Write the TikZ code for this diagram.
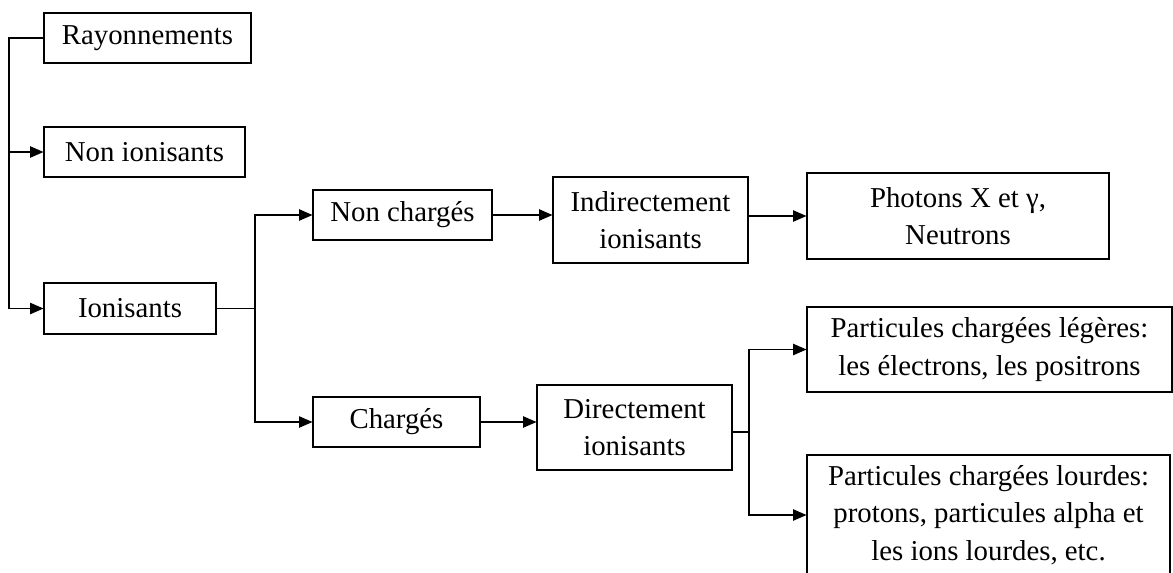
\documentclass[tikz,border=0pt]{standalone}
\usepackage{fontspec}
\setmainfont{Liberation Serif}
\usetikzlibrary{arrows.meta}

\begin{document}
\begin{tikzpicture}[x=0.75pt,y=0.75pt,yscale=-1,xscale=1,
  box/.style={draw,line width=0.8pt,inner sep=0.75pt,align=center,font=\fontsize{21.6}{28}\selectfont},
  link/.style={line width=0.8pt},
  arr/.style={line width=0.8pt,-{Triangle[length=10pt,width=8.5pt]}}]
\useasboundingbox (0,0) rectangle (1173,572);

% Text Node
\node [box,minimum width=155.25pt,minimum height=37.5pt] (ray) at (147.5,38) {Rayonnements};
% Text Node
\node [box,minimum width=150.75pt,minimum height=37.5pt] (nonion) at (144.5,152) {Non ionisants};
% Text Node
\node [box,minimum width=129pt,minimum height=38.25pt] (ion) at (130,308.5) {Ionisants};
% Text Node
\node [box,minimum width=134.25pt,minimum height=37.5pt] (nonch) at (402.5,215) {Non chargés};
% Text Node
\node [box,minimum width=125.25pt,minimum height=37.5pt] (ch) at (396.5,422) {Chargés};
% Text Node
\node [box,minimum width=146.25pt,minimum height=64.5pt] (indir) at (650.5,220) {Indirectement\\ionisants};
% Text Node
\node [box,minimum width=146.25pt,minimum height=63.75pt] (dir) at (634.5,427.5) {Directement\\ionisants};
% Text Node
\node [box,minimum width=226.5pt,minimum height=64.5pt] (phot) at (958,216) {Photons X et γ,\\Neutrons};
% Text Node
\node [box,minimum width=273.75pt,minimum height=63.75pt] (leg) at (989.5,349.5) {Particules chargées légères:\\les électrons, les positrons};
% Text Node
\node [box,minimum width=272.25pt,minimum height=90pt] (lourd) at (988.5,515) {Particules chargées lourdes:\\protons, particules alpha et\\les ions lourdes, etc.};

%Straight Lines
\coordinate (lbus) at (9,152);
\coordinate (ibus) at (255,308.5);
\coordinate (dbus) at (749,432);
\draw [arr] (ray.west) -| (lbus) |- (ion.west);
\draw [arr] (lbus) -- (nonion.west);
\draw [link] (ion.east) -- (ibus);
\draw [arr] (ibus) |- (nonch.west);
\draw [arr] (ibus) |- (ch.west);
\draw [arr] (nonch.east) -- (nonch.east -| indir.west);
\draw [arr] (phot.west -| indir.east) -- (phot.west);
\draw [arr] (ch.east) -- (ch.east -| dir.west);
\draw [link] (dbus -| dir.east) -- (dbus);
\draw [arr] (dbus) |- (leg.west);
\draw [arr] (dbus) |- (lourd.west);

\end{tikzpicture}
\end{document}
